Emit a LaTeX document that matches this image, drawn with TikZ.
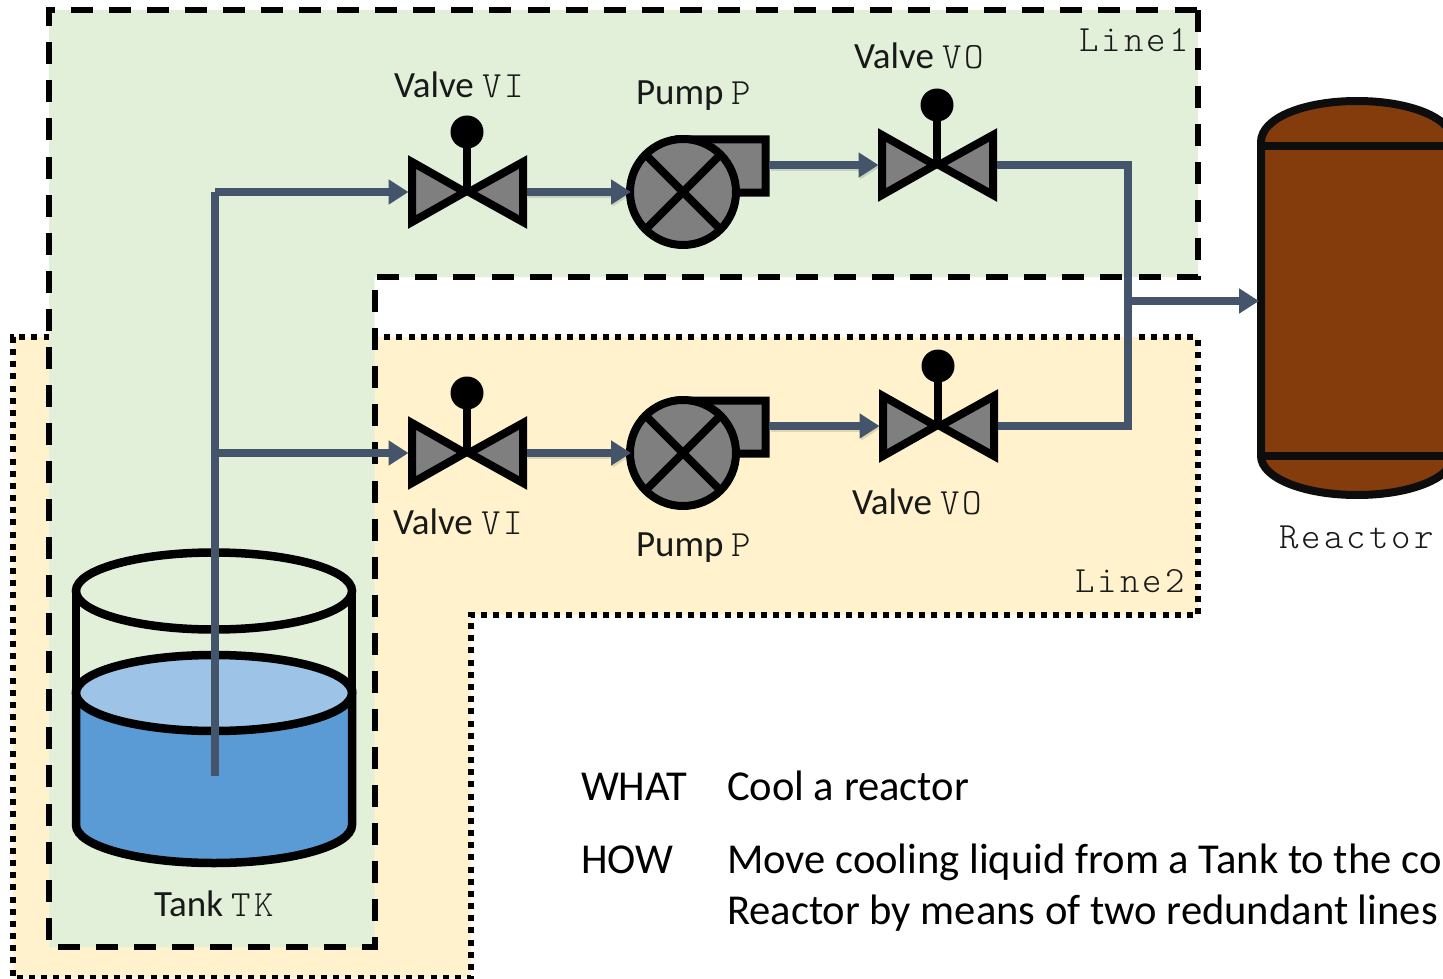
\documentclass[tikz,border=0pt]{standalone}
\usepackage{fontspec}
\setmainfont{Carlito}
\newfontfamily\courlike{Latin Modern Mono Light}[LetterSpace=8.5]
\usetikzlibrary{arrows.meta}
\definecolor{greenbg}{HTML}{E2EFD9}
\definecolor{yellowbg}{HTML}{FFF2CC}
\definecolor{pipe}{HTML}{44546A}
\definecolor{metal}{HTML}{7F7F7F}
\definecolor{water}{HTML}{5B9BD5}
\definecolor{watertop}{HTML}{9DC3E6}
\definecolor{rust}{HTML}{843C0C}
\tikzset{
  x=1pt,y=-1pt,
  regiondash/.style={draw=black,line width=6pt,dash pattern=on 22pt off 16.06pt},
  regiondot/.style={draw=black,line width=6pt,dash pattern=on 6pt off 6.167pt,dash phase=8.87pt},
  symb/.style={draw=black,line width=8pt,fill=metal,miter limit=10},
  slot/.style={inner sep=0pt,outer sep=0pt,draw=none},
  pumpbody/.style={circle,inner sep=0pt,outer sep=0pt,minimum size=106pt,draw=black,fill=metal,line width=8pt},
  pipeline/.style={draw=pipe,line width=8pt},
  flow/.style={pipeline,-{Triangle[length=20pt,width=24pt]},shorten >=-1pt},
  softflow/.style={flow,preaction={draw=black,opacity=.12,line width=8pt,transform canvas={shift={(1.5pt,-2pt)}}}},
  lab/.style={anchor=base west,inner sep=0pt,outer sep=0pt,font=\fontsize{37}{37}\selectfont,text=black!90},
  labmono/.style={anchor=base west,inner sep=0pt,outer sep=0pt,font=\fontsize{37}{37}\selectfont,text=black!90},
  body/.style={anchor=base west,inner sep=0pt,outer sep=0pt,font=\fontsize{42.6}{42.6}\selectfont,text=black},
  tankline/.style={draw=black,line width=8.5pt},
}
\newcommand{\mytt}[1]{{\courlike #1}}
\newcommand{\valvesym}[3]{% name, x, y
  \node[slot,minimum width=119pt,minimum height=73pt] (#1) at (#2,#3) {};
  \draw[symb] (#2-55,#3-30) -- (#2-2,#3) -- (#2-55,#3+30) -- cycle;
  \draw[symb] (#2+56,#3-30) -- (#2+2,#3) -- (#2+56,#3+30) -- cycle;
  \draw[black,line width=8pt] (#2,#3) -- (#2,#3-60);
  \fill[black] (#2,#3-60) circle (16.5);
}
\newcommand{\pumpsym}[3]{% name, x, y
  \draw[symb] (#2,#3-52.5) -- (#2+82.5,#3-52.5) -- (#2+82.5,#3+0.5) -- (#2+40,#3+0.5) -- cycle;
  \node[pumpbody] (#1) at (#2,#3) {};
  \draw[black,line width=8pt] (#2-37,#3-37) -- (#2+37,#3+37);
  \draw[black,line width=8pt] (#2-37,#3+37) -- (#2+37,#3-37);
  \coordinate (#1out) at (#2+86,#3-27);
}
\begin{document}
\begin{tikzpicture}
\useasboundingbox (0,0) rectangle (1443,979);
\clip (0,0) rectangle (1443,979);
% regions
\fill[yellowbg] (13,337) -- (1198,337) -- (1198,615) -- (471,615) -- (471,978) -- (13,978) -- cycle;
\draw[regiondot] (1198,337) -- (1198,615) -- (471,615) -- (471,978) -- (13,978) -- (13,337) -- cycle;
\fill[greenbg] (49,10) -- (1198,10) -- (1198,277) -- (374.5,277) -- (374.5,947) -- (49,947) -- cycle;
\draw[regiondash] (1198,10) -- (1198,277) -- (374.5,277) -- (374.5,947) -- (49,947) -- (49,10) -- cycle;
% tank
\node[slot,minimum width=284pt,minimum height=319pt] (tank) at (214,707.5) {};
\draw[tankline,fill=water] (76,693) -- (76,825) arc[start angle=180,end angle=0,x radius=138,y radius=38] -- (352,693) -- cycle;
\draw[tankline,fill=watertop] (214,693) ellipse[x radius=138,y radius=38];
\draw[tankline] (76,591) -- (76,693) (352,591) -- (352,693);
\draw[tankline] (214,591) ellipse[x radius=138,y radius=38.5];
% reactor
\node[slot,minimum width=192pt,minimum height=402pt] (reactor) at (1357,298) {};
\coordinate (reactorin) at (1258,301);
\draw[draw=black!95,line width=8pt,fill=rust] (1261,146) -- (1261,142)
  .. controls (1261,118) and (1304,101) .. (1357,101)
  .. controls (1410,101) and (1453,118) .. (1453,142)
  -- (1453,456)
  .. controls (1453,478) and (1410,495) .. (1357,495)
  .. controls (1304,495) and (1261,478) .. (1261,456) -- cycle;
\draw[black!95,line width=8pt] (1261,146) -- (1453,146) (1261,456) -- (1453,456);
% symbols
\valvesym{vi1}{467}{192}
\pumpsym{p1}{683}{192}
\valvesym{vo1}{937}{165}
\valvesym{vi2}{467}{453}
\pumpsym{p2}{683}{453}
\valvesym{vo2}{938}{426}
% pipes
\coordinate (pipefoot) at (215,776);
\coordinate (tee1) at (215,192);
\coordinate (tee2) at (215,453);
\coordinate (merge) at (1128,301);
\draw[pipeline] (pipefoot) -- (tee1);
\draw[flow] (tee1) -- (vi1.west);
\draw[flow] (tee2) -- (vi2.west);
\draw[softflow] (vi1.east) -- (p1.west);
\draw[softflow] (vi2.east) -- (p2.west);
\draw[softflow] (p1out) -- (vo1.west);
\draw[softflow] (p2out) -- (vo2.west);
\draw[pipeline] (vo1.east) -| (merge);
\draw[pipeline] (vo2.east) -| (merge);
\draw[flow] (merge) -- (reactorin);
% labels
\node[lab] (lvi1) at (394,98) {Valve \mytt{VI}};
\node[lab] (lp1) at (636,105) {Pump \mytt{P}};
\node[lab] (lvo1) at (854,69) {Valve \mytt{VO}};
\node[labmono] (lline1) at (1079,52) {\mytt{Line1}};
\node[labmono] (lreactor) at (1279,548) {\mytt{Reactor}};
\node[labmono] (lline2) at (1075,592) {\mytt{Line2}};
\node[lab] (lvi2) at (393,534) {Valve \mytt{VI}};
\node[lab] (lp2) at (636,556) {Pump \mytt{P}};
\node[lab] (lvo2) at (852,514) {Valve \mytt{VO}};
\node[lab] (ltank) at (154,916) {Tank \mytt{TK}};
\node[body] (what) at (581,800) {WHAT};
\node[body] (cool) at (727,800) {Cool a reactor};
\node[body] (how) at (581,873) {HOW};
\node[body] (move) at (727,873) {Move cooling liquid from a Tank to the co};
\node[body] (means) at (727,924) {Reactor by means of two redundant lines};
\end{tikzpicture}
\end{document}
